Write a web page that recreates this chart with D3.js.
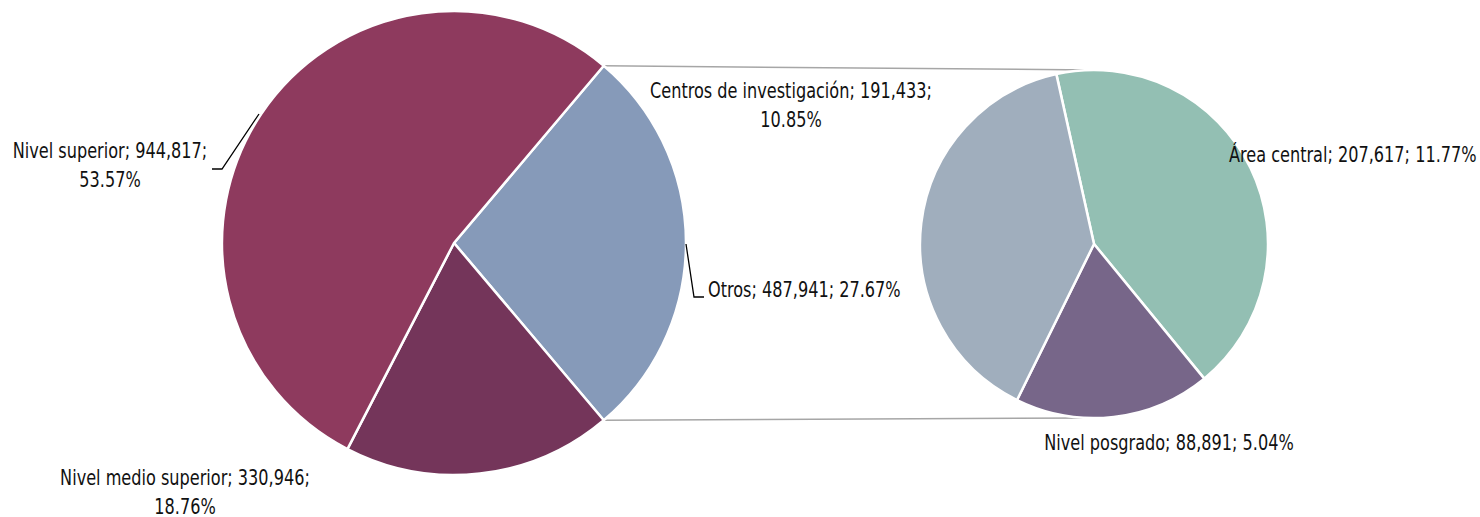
<!DOCTYPE html>
<html>
<head>
<meta charset="utf-8">
<script src="https://cdn.jsdelivr.net/npm/d3@7"></script>
<style>
  body { margin: 0; background: #fff; }
  svg text { font-family: "DejaVu Sans Condensed", "DejaVu Sans", sans-serif; font-stretch: condensed; font-size: 22px; fill: #111; }
</style>
</head>
<body>
<svg id="chart" width="1480" height="517"></svg>
<script>
// main pie, in drawing order (clockwise from the "Otros" wedge)
var mainNames = ["Otros", "Nivel medio superior", "Nivel superior"];
var mainValues = [487941, 330946, 944817];
var mainPct = ["27.67%", "18.76%", "53.57%"];
var mainColors = ["#869ab9", "#74355a", "#8e3a5e"];

// secondary pie, splits the "Otros" wedge
var subNames = ["Área central", "Nivel posgrado", "Centros de investigación"];
var subValues = [207617, 88891, 191433];
var subPct = ["11.77%", "5.04%", "10.85%"];
var subColors = ["#93bfb3", "#776689", "#a0aebd"];

var svg = d3.select("#chart");
var fmt = d3.format(",");

var main = { cx: 454, cy: 243, r: 232 };
var sub = { cx: 1094, cy: 244, r: 174 };
var squeeze = 0.815; // narrow the labels like the original condensed face

var total = d3.sum(mainValues);
// "Otros" wedge is centred on 3 o'clock
var otrosHalf = Math.PI * mainValues[0] / total;
var mainStart = Math.PI / 2 - otrosHalf;

var mainPie = d3.pie().sort(null)
  .startAngle(mainStart).endAngle(mainStart + 2 * Math.PI);
var subStart = -12.5 * Math.PI / 180;
var subPie = d3.pie().sort(null)
  .startAngle(subStart).endAngle(subStart + 2 * Math.PI);

var mainArc = d3.arc().innerRadius(0).outerRadius(main.r);
var subArc = d3.arc().innerRadius(0).outerRadius(sub.r);

// series lines, from the edge of the Otros wedge to top/bottom of the small pie
var edge = function(a) {
  return [main.cx + main.r * Math.sin(a), main.cy - main.r * Math.cos(a)];
};
var p1 = edge(mainStart), p2 = edge(mainStart + 2 * otrosHalf);
svg.append("g").selectAll("line")
  .data([[p1, [sub.cx, sub.cy - sub.r]], [p2, [sub.cx, sub.cy + sub.r]]])
  .join("line")
  .attr("x1", function(d) { return d[0][0]; })
  .attr("y1", function(d) { return d[0][1]; })
  .attr("x2", function(d) { return d[1][0]; })
  .attr("y2", function(d) { return d[1][1]; })
  .attr("stroke", "#a6a6a6")
  .attr("stroke-width", 1.5);

svg.append("g")
  .attr("transform", "translate(" + main.cx + "," + main.cy + ")")
  .selectAll("path")
  .data(mainPie(mainValues))
  .join("path")
  .attr("d", mainArc)
  .attr("fill", function(d, i) { return mainColors[i]; })
  .attr("stroke", "#fff")
  .attr("stroke-width", 2.5)
  .attr("stroke-linejoin", "round");

svg.append("g")
  .attr("transform", "translate(" + sub.cx + "," + sub.cy + ")")
  .selectAll("path")
  .data(subPie(subValues))
  .join("path")
  .attr("d", subArc)
  .attr("fill", function(d, i) { return subColors[i]; })
  .attr("stroke", "#fff")
  .attr("stroke-width", 2.5)
  .attr("stroke-linejoin", "round");

// leader lines
var leaders = [
  [[212, 169], [222, 169], [259, 114]],
  [[686, 244], [694, 297], [704, 297]]
];
svg.append("g").selectAll("path")
  .data(leaders)
  .join("path")
  .attr("d", d3.line())
  .attr("fill", "none")
  .attr("stroke", "#000")
  .attr("stroke-width", 1.3);

// data labels: x, first baseline, anchor, and how the text breaks
var labels = [
  { name: mainNames[0], value: mainValues[0], pct: mainPct[0], x: 708, y: 297, anchor: "start", split: false },
  { name: mainNames[1], value: mainValues[1], pct: mainPct[1], x: 185, y: 485, anchor: "middle", split: true },
  { name: mainNames[2], value: mainValues[2], pct: mainPct[2], x: 110, y: 158, anchor: "middle", split: true },
  { name: subNames[0], value: subValues[0], pct: subPct[0], x: 1229, y: 162, anchor: "start", split: false },
  { name: subNames[1], value: subValues[1], pct: subPct[1], x: 1169, y: 450, anchor: "middle", split: false },
  { name: subNames[2], value: subValues[2], pct: subPct[2], x: 791, y: 98, anchor: "middle", split: true }
];

var lab = svg.append("g").selectAll("g")
  .data(labels)
  .join("g")
  .attr("transform", function(d) {
    return "translate(" + d.x + "," + d.y + ") scale(" + squeeze + ",1)";
  })
  .append("text")
  .attr("text-anchor", function(d) { return d.anchor; });

lab.each(function(d) {
  var t = d3.select(this);
  if (d.split) {
    t.append("tspan").attr("x", 0).text(d.name + "; " + fmt(d.value) + ";");
    t.append("tspan").attr("x", 0).attr("dy", 29).text(d.pct);
  } else {
    t.text(d.name + "; " + fmt(d.value) + "; " + d.pct);
  }
});
</script>
</body>
</html>
